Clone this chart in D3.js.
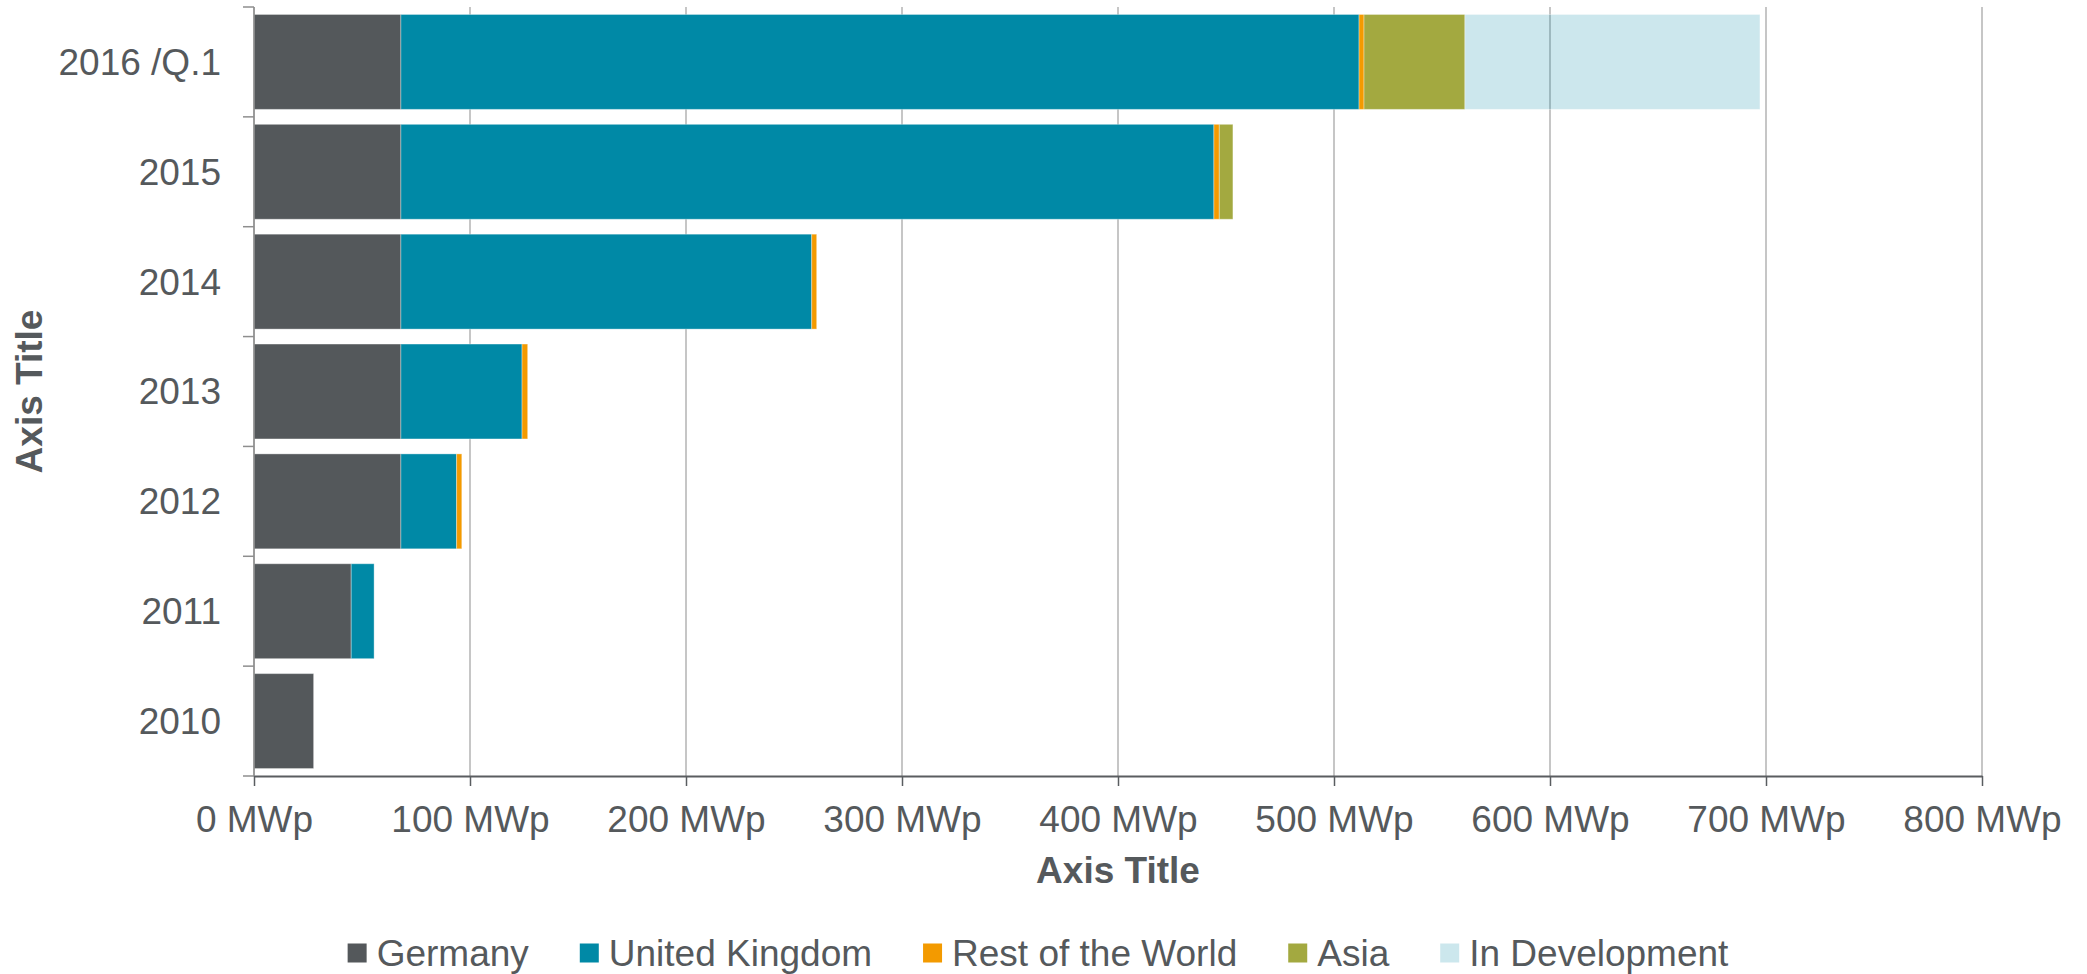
<!DOCTYPE html>
<html>
<head>
<meta charset="utf-8">
<script src="https://cdn.jsdelivr.net/npm/d3@7"></script>
<style>
  body { margin: 0; background: #fff; }
  text { font-family: "Liberation Sans", Arial, sans-serif; fill: #55595c; }
</style>
</head>
<body>
<script>
// values, oldest year first
var years = ["2010", "2011", "2012", "2013", "2014", "2015", "2016 /Q.1"];
var germany = [27.6, 45, 68, 68, 68, 68, 68];
var unitedKingdom = [0, 10.6, 25.8, 56.1, 190.2, 376.4, 443.6];
var restOfWorld = [0, 0, 2.4, 2.6, 2.3, 2.5, 2.3];
var asia = [0, 0, 0, 0, 0, 6.3, 46.7];
var inDevelopment = [0, 0, 0, 0, 0, 0, 136.6];
var seriesNames = ["Germany", "United Kingdom", "Rest of the World", "Asia", "In Development"];
var xTicks = [0, 100, 200, 300, 400, 500, 600, 700, 800];

var width = 2087;
var height = 974;
// plot edges (note: "top" is reserved on window, so use other names)
var plotLeft = 254, plotRight = 1982, plotTop = 7, plotBottom = 776;

var colors = {
  "Germany": "#54585b",
  "United Kingdom": "#0089a6",
  "Rest of the World": "#f39a00",
  "Asia": "#a3a940",
  "In Development": "#0089a6"
};

var svg = d3.select("body").append("svg")
  .attr("width", width)
  .attr("height", height);

// rows for the stack
var rows = years.map(function(y, i) {
  return {
    year: y,
    "Germany": germany[i],
    "United Kingdom": unitedKingdom[i],
    "Rest of the World": restOfWorld[i],
    "Asia": asia[i],
    "In Development": inDevelopment[i]
  };
});

var x = d3.scaleLinear().domain([0, 800]).range([plotLeft, plotRight]);
var y = d3.scaleBand()
  .domain(years.slice().reverse())
  .range([plotTop, plotBottom])
  .paddingInner(0.136)
  .paddingOuter(0.068);

// gridlines
svg.append("g")
  .selectAll("line")
  .data(xTicks)
  .enter().append("line")
  .attr("x1", function(d) { return x(d); })
  .attr("x2", function(d) { return x(d); })
  .attr("y1", plotTop)
  .attr("y2", plotBottom)
  .attr("stroke", "#c6c6c6")
  .attr("stroke-width", 2);

var stacked = d3.stack().keys(seriesNames)(rows);

svg.append("g")
  .selectAll("g")
  .data(stacked)
  .enter().append("g")
  .attr("fill", function(s) { return colors[s.key]; })
  .attr("fill-opacity", function(s) { return s.key == "In Development" ? 0.2 : 1; })
  .selectAll("rect")
  .data(function(s) { return s.filter(function(d) { return d[1] - d[0] > 0; }); })
  .enter().append("rect")
  .attr("x", function(d) { return x(d[0]); })
  .attr("width", function(d) { return x(d[1]) - x(d[0]); })
  .attr("y", function(d) { return y(d.data.year); })
  .attr("height", y.bandwidth())
  .attr("stroke", "rgba(255,255,255,0.35)")
  .attr("stroke-width", 1);

// y axis: line, ticks at band edges, labels
var step = y.step();
var edges = years.map(function(yr) { return y(yr) - y.paddingInner() * step / 2; });
edges.push(plotBottom);

svg.append("line")
  .attr("x1", plotLeft).attr("x2", plotLeft)
  .attr("y1", plotTop).attr("y2", plotBottom)
  .attr("stroke", "#8e8e8e")
  .attr("stroke-width", 1.5);

svg.append("g").selectAll("line")
  .data(edges)
  .enter().append("line")
  .attr("x1", plotLeft - 11).attr("x2", plotLeft)
  .attr("y1", function(d) { return d; })
  .attr("y2", function(d) { return d; })
  .attr("stroke", "#8e8e8e")
  .attr("stroke-width", 1.5);

svg.append("g").selectAll("text")
  .data(years)
  .enter().append("text")
  .attr("x", 221)
  .attr("y", function(d) { return y(d) + y.bandwidth() / 2; })
  .attr("dy", "0.35em")
  .attr("text-anchor", "end")
  .style("font-size", "37px")
  .text(function(d) { return d; });

// x axis
var xAxis = svg.append("g")
  .attr("transform", "translate(0," + plotBottom + ")")
  .call(d3.axisBottom(x)
    .tickValues(xTicks)
    .tickFormat(function(d) { return d + " MWp"; })
    .tickSize(10)
    .tickSizeOuter(0)
    .tickPadding(20));
xAxis.select(".domain").attr("stroke", "#5a5d60").attr("stroke-width", 2);
xAxis.selectAll(".tick line").attr("stroke", "#5a5d60").attr("stroke-width", 1.5);
xAxis.selectAll(".tick text")
  .style("font-size", "37px")
  .style("font-family", "\"Liberation Sans\", Arial, sans-serif")
  .attr("fill", "#55595c");

// axis titles
svg.append("text")
  .attr("x", (plotLeft + plotRight) / 2)
  .attr("y", 883)
  .attr("text-anchor", "middle")
  .style("font-size", "37px")
  .style("font-weight", "bold")
  .text("Axis Title");

svg.append("text")
  .attr("transform", "translate(29," + (plotTop + plotBottom) / 2 + ") rotate(-90)")
  .attr("text-anchor", "middle")
  .attr("dy", "0.35em")
  .style("font-size", "37px")
  .style("font-weight", "bold")
  .text("Axis Title");

// legend, centred under the chart
var legend = svg.append("g");
var items = legend.selectAll("g")
  .data(seriesNames)
  .enter().append("g");
items.append("rect")
  .attr("width", 19).attr("height", 19)
  .attr("y", -9.5)
  .attr("fill", function(d) { return colors[d]; })
  .attr("fill-opacity", function(d) { return d == "In Development" ? 0.2 : 1; });
items.append("text")
  .attr("x", 29)
  .attr("dy", "0.35em")
  .style("font-size", "37px")
  .text(function(d) { return d; });

var pos = 0;
items.each(function() {
  var w = 29 + d3.select(this).select("text").node().getComputedTextLength();
  d3.select(this).attr("transform", "translate(" + pos + ",0)");
  pos += w + 51;
});
var total = pos - 51;
legend.attr("transform", "translate(" + (1038 - total / 2) + ",953)");
</script>
</body>
</html>
